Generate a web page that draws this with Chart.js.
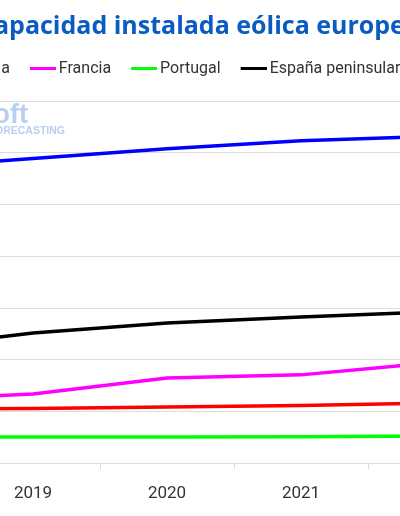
<!DOCTYPE html>
<html><head><meta charset="utf-8">
<script src="https://cdn.jsdelivr.net/npm/chart.js@4"></script>
<style>
html,body{margin:0;padding:0;width:400px;height:516px;overflow:hidden;background:#fff}
#wrap{position:absolute;left:-220px;top:0;width:838px;height:516px}
</style></head><body>
<div id="wrap"><canvas id="c"></canvas></div>
<script>
const categories = ['2018', '2019', '2020', '2021', '2022'];
const alemania = [57.0, 58.9, 60.8, 62.3, 63.2];
const francia  = [12.2, 13.4, 16.5, 17.1, 19.5];
const portugal = [5.1, 5.1, 5.1, 5.15, 5.3];
const espana   = [22.1, 25.2, 27.1, 28.3, 29.3];
const italia   = [10.5, 10.6, 10.9, 11.2, 11.65];
const yTicks = [0, 10, 20, 30, 40, 50, 60, 70];
const titleText = 'Capacidad instalada eólica europea';

function legendLine(color) {
  const c = document.createElement('canvas');
  c.width = 31; c.height = 3;
  const g = c.getContext('2d');
  g.fillStyle = color; g.fillRect(5, 0, 26, 3);
  return c;
}
function ds(label, data, color) {
  return { label, data, borderColor: color, backgroundColor: color, borderWidth: 3.5,
    pointRadius: 0, pointHoverRadius: 0, tension: 0, pointStyle: legendLine(color), fill: false,
    yAxisID: 'y' };
}

const watermark = {
  id: 'watermark',
  beforeDatasetsDraw(chart) {
    const { ctx, chartArea } = chart;
    ctx.save();
    ctx.fillStyle = '#b9cff0';
    ctx.textAlign = 'right';
    ctx.textBaseline = 'alphabetic';
    ctx.font = 'bold 27px "Liberation Sans", Arial, sans-serif';
    ctx.fillText('AleaSoft', chartArea.left + 196, chartArea.top + 22);
    ctx.font = 'bold 10.5px "Liberation Sans", Arial, sans-serif';
    ctx.fillText('ENERGY FORECASTING', chartArea.left + 233, chartArea.top + 33);
    ctx.restore();
  }
};
const legendHeightFix = {
  id: 'legendHeightFix',
  beforeLayout(chart) {
    const lg = chart.legend;
    if (lg && !lg._patched) {
      const orig = lg.fit;
      lg.fit = function () { orig.call(this); this.height += 14.5; };
      lg._patched = true;
    }
  }
};

new Chart(document.getElementById('c'), {
  type: 'line',
  data: {
    labels: categories,
    datasets: [
      ds('Alemania', alemania, '#0000ff'),
      ds('Francia', francia, '#ff00ff'),
      ds('Portugal', portugal, '#00ff00'),
      ds('España peninsular', espana, '#000000'),
      ds('Italia', italia, '#ff0000')
    ]
  },
  options: {
    responsive: true,
    maintainAspectRatio: false,
    animation: false,
    layout: { padding: { left: 0, right: 0, top: 0, bottom: -3 } },
    plugins: {
      title: {
        display: true, text: titleText, color: '#0b5cc2',
        font: { family: 'Open Sans', size: 25, weight: 'bold', lineHeight: 1.2 },
        padding: { top: 11.4, bottom: -0.9 }
      },
      legend: {
        display: true,
        labels: {
          usePointStyle: true, pointStyleWidth: 21, padding: 20,
          color: '#333333', font: { family: 'Roboto', size: 16 }
        }
      },
      tooltip: { enabled: false }
    },
    scales: {
      x: {
        offset: true,
        grid: { offset: true, drawOnChartArea: false, drawTicks: true, tickLength: 6, color: '#dddddd' },
        border: { display: false },
        ticks: { color: '#333333', padding: 14.6, font: { family: 'Roboto', size: 17 } }
      },
      y: {
        position: 'left',
        min: yTicks[0], max: yTicks[yTicks.length - 1],
        afterFit(scale) { scale.width = 52; },
        ticks: { stepSize: yTicks[1] - yTicks[0], color: '#333333', font: { family: 'Roboto', size: 16 } },
        grid: { color: '#dddddd', drawTicks: false },
        border: { display: false }
      },
      yRight: {
        position: 'right',
        display: true,
        min: yTicks[0], max: yTicks[yTicks.length - 1],
        afterFit(scale) { scale.width = 116; },
        ticks: { display: false },
        grid: { display: false, drawOnChartArea: false, drawTicks: false },
        border: { display: false }
      }
    }
  },
  plugins: [watermark, legendHeightFix]
});
</script>
</body></html>
